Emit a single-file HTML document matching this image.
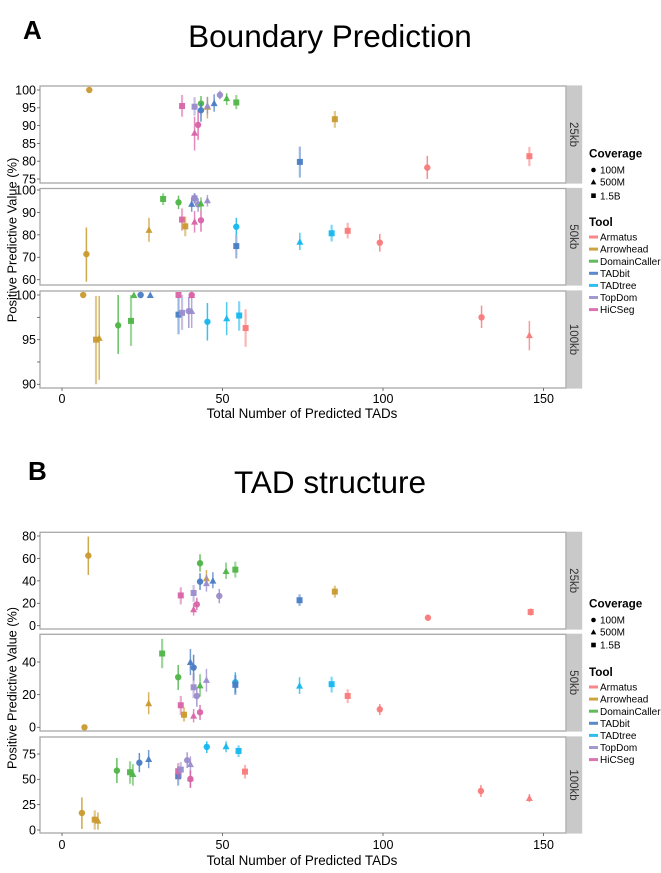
<!DOCTYPE html>
<html lang="en">
<head>
<meta charset="utf-8">
<title>TAD caller evaluation</title>
<style>
html,body{margin:0;padding:0;background:#fff;}
#figure{display:block;width:661px;height:873px;font-family:"Liberation Sans",sans-serif;filter:blur(0.3px);}
text{font-family:"Liberation Sans",sans-serif;}
</style>
</head>
<body>
<svg id="figure" xmlns="http://www.w3.org/2000/svg" width="661" height="873" viewBox="0 0 661 873">
  <text x="23" y="39" font-size="26" font-weight="700" fill="#000">A</text>
  <text x="330" y="47" font-size="31.5" text-anchor="middle" fill="#000">Boundary Prediction</text>
  <text x="28" y="480" font-size="26" font-weight="700" fill="#000">B</text>
  <text x="330" y="493" font-size="31.5" text-anchor="middle" fill="#000">TAD structure</text>
  <text transform="translate(16.5,240) rotate(-90)" font-size="12.9" text-anchor="middle" fill="#000">Positive Predictive Value (%)</text>
  <text transform="translate(16.5,688) rotate(-90)" font-size="12.7" text-anchor="middle" fill="#000">Positive Predictive Value (%)</text>
  <text x="302" y="418" font-size="13.4" text-anchor="middle" fill="#000">Total Number of Predicted TADs</text>
  <text x="302" y="865" font-size="13.4" text-anchor="middle" fill="#000">Total Number of Predicted TADs</text>
  <g id="plots"></g>
  <g id="legends"></g>
</svg>
<script>
// Legend / axis categories
const tools = ["Armatus", "Arrowhead", "DomainCaller", "TADbit", "TADtree", "TopDom", "HiCSeg"];
const coverages = ["100M", "500M", "1.5B"];
const xTicks = [0, 50, 100, 150];

// Tick labels per panel
const boundary25Ticks = [100, 95, 90, 85, 80, 75];
const boundary50Ticks = [100, 90, 80, 70, 60];
const boundary100Ticks = [100, 95, 90];
const boundary100MinorTicks = [97.5, 92.5];
const structure25Ticks = [80, 60, 40, 20, 0];
const structure50Ticks = [40, 20, 0];
const structure100Ticks = [75, 50, 25, 0];

// Rows: tool, coverage, predicted TADs, PPV, lower, upper
const boundary25 = [
  ["Arrowhead","100M",8.5,100,100,100],
  ["HiCSeg","1.5B",37.4,95.5,92.5,98.6],
  ["TopDom","1.5B",41.3,95.3,92.8,98],
  ["HiCSeg","500M",41.3,88,83,92.5],
  ["HiCSeg","100M",42.4,90.2,86,94.4],
  ["DomainCaller","100M",43.3,96.2,93.9,98.3],
  ["TADbit","100M",43.3,94.3,91.1,96.3],
  ["Arrowhead","500M",45.3,95.3,92,98],
  ["TopDom","500M",45.3,95.6,93.2,98.1],
  ["TADbit","500M",47.4,96.3,93.9,98.8],
  ["TopDom","100M",49.2,98.6,97.4,99.8],
  ["DomainCaller","500M",51.3,97.7,95.8,99.1],
  ["DomainCaller","1.5B",54.3,96.5,94.6,98.6],
  ["TADbit","1.5B",74.1,79.8,75.4,84.1],
  ["Arrowhead","1.5B",85,91.8,89.4,94.1],
  ["Armatus","100M",113.8,78.2,75,81.5],
  ["Armatus","1.5B",145.6,81.4,78.6,84]
];
const boundary50 = [
  ["Arrowhead","100M",7.6,71.4,59.1,83.3],
  ["Arrowhead","500M",27.1,82.2,76.9,87.6],
  ["DomainCaller","1.5B",31.5,96,93.3,98.5],
  ["DomainCaller","100M",36.3,94.5,91.5,97.5],
  ["HiCSeg","1.5B",37.4,86.8,81.9,91.8],
  ["Arrowhead","1.5B",38.4,83.8,79.4,88.1],
  ["TADbit","500M",40.4,93.8,90.3,96.7],
  ["TADbit","100M",41.3,96.3,94,98.5],
  ["TopDom","1.5B",41.3,96.3,94,98.5],
  ["HiCSeg","500M",41.3,85.9,81,90.6],
  ["TopDom","100M",42.4,93.6,90.3,96.3],
  ["DomainCaller","500M",43.3,94,91,96.7],
  ["HiCSeg","100M",43.3,86.5,81.4,91],
  ["TopDom","500M",45.3,95.4,92.6,97.8],
  ["TADtree","100M",54.3,83.6,79.9,87.6],
  ["TADbit","1.5B",54.3,75,69.5,79.9],
  ["TADtree","500M",74.1,76.9,73.2,80.9],
  ["TADtree","1.5B",84,80.7,77,84.5],
  ["Armatus","1.5B",89,81.8,78.4,85.4],
  ["Armatus","100M",99,76.5,72.5,80.4]
];
const boundary100 = [
  ["Arrowhead","100M",6.6,100,100,100],
  ["Arrowhead","1.5B",10.6,95,90,99.9],
  ["Arrowhead","500M",11.6,95.2,90.5,99.9],
  ["DomainCaller","100M",17.5,96.6,93.4,100],
  ["DomainCaller","1.5B",21.5,97.1,94.3,100],
  ["DomainCaller","500M",22.4,100,100,100],
  ["TADbit","100M",24.5,100,100,100],
  ["TADbit","500M",27.5,100,100,100],
  ["TADbit","1.5B",36.3,97.8,95.6,100],
  ["HiCSeg","1.5B",36.3,100,100,100],
  ["TopDom","1.5B",37.4,98,96.1,100],
  ["TopDom","100M",39.5,98.2,96.3,99.8],
  ["TopDom","500M",40.4,98.2,96.3,99.8],
  ["HiCSeg","500M",40.4,100,100,100],
  ["HiCSeg","100M",40.4,100,100,100],
  ["TADtree","100M",45.3,97,94.9,99.1],
  ["TADtree","500M",51.3,97.4,95.5,99.2],
  ["TADtree","1.5B",55.2,97.7,96,99.3],
  ["Armatus","1.5B",57.2,96.3,94.2,98.4],
  ["Armatus","100M",130.7,97.5,96.3,98.8],
  ["Armatus","500M",145.6,95.5,93.8,97.1]
];
const structure25 = [
  ["Arrowhead","100M",8.2,62.5,45.3,79.5],
  ["HiCSeg","1.5B",37,27,19,34.3],
  ["TopDom","1.5B",41,29.2,21.4,36.3],
  ["HiCSeg","500M",41,14.6,9,20],
  ["HiCSeg","100M",42,19,14,25],
  ["DomainCaller","100M",43,55.7,48.2,63.7],
  ["TADbit","100M",43,39.3,31.9,46.8],
  ["Arrowhead","500M",45,42.3,36.3,49.7],
  ["TopDom","500M",45,37.9,30.4,45.3],
  ["TADbit","500M",47,40.2,33.4,47.7],
  ["TopDom","100M",49,26.5,20,32.8],
  ["DomainCaller","500M",51.1,48.8,41.7,56.3],
  ["DomainCaller","1.5B",54,50,42.9,57.1],
  ["TADbit","1.5B",74,22.7,17.6,28],
  ["Arrowhead","1.5B",85,30.4,25,35.7],
  ["Armatus","100M",114,7.1,4.5,9.6],
  ["Armatus","1.5B",146,12.2,8.9,15.5]
];
const structure50 = [
  ["Arrowhead","100M",7,0,0,0],
  ["Arrowhead","500M",27,14.7,8,21.5],
  ["DomainCaller","1.5B",31.2,45.2,36.2,54.2],
  ["DomainCaller","100M",36.2,30.7,22.9,38.2],
  ["HiCSeg","1.5B",37,13.5,7.5,19.2],
  ["Arrowhead","1.5B",38,7.7,3.5,12.3],
  ["TADbit","500M",40,40,32,48],
  ["HiCSeg","500M",41,7.1,3,11.2],
  ["TADbit","100M",41,36.6,28.6,44.4],
  ["TopDom","1.5B",41,24.5,17.8,33],
  ["TopDom","100M",42,19.2,12.6,24.5],
  ["DomainCaller","500M",43,25.7,18.8,32.5],
  ["HiCSeg","100M",43,9.2,4.5,13.7],
  ["TopDom","500M",45,29,21.8,35.8],
  ["TADtree","100M",54,27.6,20.8,33.7],
  ["TADbit","1.5B",54,26,19.8,32],
  ["TADtree","500M",74,25.5,20.4,30.7],
  ["TADtree","1.5B",84,26.4,21.3,31],
  ["Armatus","1.5B",89,19.2,14.8,23.3],
  ["Armatus","100M",99,11,7.5,14.3]
];
const structure100 = [
  ["Arrowhead","100M",6.2,16.8,1,32.2],
  ["Arrowhead","1.5B",10.2,10.2,0.3,19.4],
  ["Arrowhead","500M",11.2,9.2,0.3,17.4],
  ["DomainCaller","100M",17.1,58.6,46.4,71],
  ["DomainCaller","1.5B",21.2,57,45.7,67.8],
  ["DomainCaller","500M",22.1,55.3,43.8,65],
  ["TADbit","100M",24.1,66.4,57,76],
  ["TADbit","500M",27,70,61,79],
  ["TADbit","1.5B",36.2,53,43.8,62.8],
  ["HiCSeg","1.5B",36.2,58,50,66],
  ["TopDom","1.5B",37,59.6,51.3,67],
  ["TopDom","100M",39,68.8,61.2,76.7],
  ["TopDom","500M",40,65,56.3,72.7],
  ["HiCSeg","100M",40,50.4,41.5,58],
  ["HiCSeg","500M",40,51,42,59],
  ["TADtree","100M",45.1,82,76,87.5],
  ["TADtree","500M",51.1,82.6,76.7,87.5],
  ["TADtree","1.5B",55,78,72,83.6],
  ["Armatus","1.5B",57,57.6,50.8,64.2],
  ["Armatus","100M",130.5,38.5,32.6,44.4],
  ["Armatus","500M",145.6,31.6,27.6,35.5]
];

const NS = "http://www.w3.org/2000/svg";
const toolColor = {Armatus:"#f87a7a",Arrowhead:"#c99a2e",DomainCaller:"#4fb548",TADbit:"#4a7cc4",TADtree:"#15b7ee",TopDom:"#9b8ccb",HiCSeg:"#d964a8"};
const barStyle = {"100M":[1.5,0.85],"500M":[1.5,0.75],"1.5B":[2.2,0.55]};
const plots = document.getElementById("plots");
const legends = document.getElementById("legends");

function make(parent, tag, attrs, text) {
  const el = document.createElementNS(NS, tag);
  for (const k in attrs) el.setAttribute(k, attrs[k]);
  if (text !== undefined) el.textContent = text;
  parent.appendChild(el);
  return el;
}
function xScale(v) { return 62 + 3.21 * v; }
function linear(v0, p0, v1, p1) {
  return function (v) { return p0 + (v - v0) * (p1 - p0) / (v1 - v0); };
}
function kebab(s) { return s.toLowerCase().replace(/\./g, "-"); }

function marker(parent, cov, cx, cy, fill, size) {
  let el;
  if (cov === "100M") {
    el = make(parent, "circle", {cx: cx, cy: cy, r: size, fill: fill});
  } else if (cov === "500M") {
    const s = size + 0.5;
    el = make(parent, "polygon", {points: (cx - s) + "," + (cy + s * 0.85) + " " + (cx + s) + "," + (cy + s * 0.85) + " " + cx + "," + (cy - s), fill: fill});
  } else {
    el = make(parent, "rect", {x: cx - size, y: cy - size, width: 2 * size, height: 2 * size, fill: fill});
  }
  return el;
}

function drawPanel(name, label, top, bottom, yScale, ticks, minorTicks, rows, showX, xLabelY) {
  const g = make(plots, "g", {});
  
  

  const frame = make(g, "rect", {x: 40, y: top, width: 526, height: bottom - top, fill: "#fff", stroke: "#a8a8a8", "stroke-width": 1.3});
  
  

  const strip = make(g, "rect", {x: 566.6, y: top - 0.6, width: 15.6, height: bottom - top + 1.2, fill: "#c9c9c9"});
  
  

  const stripCenter = (top + bottom) / 2;
  const stripText = make(g, "text", {transform: "translate(570,"+ stripCenter +") rotate(90)", "font-size": 11.5, "text-anchor": "middle", fill: "#333"}, label);
  
  

  ticks.forEach(function (t) {
    const py = yScale(t);
    const tick = make(g, "line", {x1: 37, x2: 40, y1: py, y2: py, stroke: "#555", "stroke-width": 0.8});
    
    
    const lab = make(g, "text", {x: 36, y: py + 4.4, "font-size": 12.5, "text-anchor": "end", fill: "#000"}, t);
    
    
  });
  minorTicks.forEach(function (t) {
    const py = yScale(t);
    const tick = make(g, "line", {x1: 37, x2: 40, y1: py, y2: py, stroke: "#555", "stroke-width": 0.8});
    
    
  });
  if (showX) {
    xTicks.forEach(function (t) {
      const px = xScale(t);
      const tick = make(g, "line", {x1: px, x2: px, y1: bottom, y2: bottom + 3, stroke: "#555", "stroke-width": 0.8});
      
      
      const lab = make(g, "text", {x: px, y: xLabelY, "font-size": 12.5, "text-anchor": "middle", fill: "#000"}, t);
      
      
    });
  }
  rows.forEach(function (r) {
    const tool = r[0], cov = r[1], px = xScale(r[2]);
    const color = toolColor[tool];
    const style = barStyle[cov];
    const id = name + '-' + kebab(tool) + '-' + kebab(cov);
    if (r[4] !== r[5]) {
      const bar = make(g, "line", {x1: px, x2: px, y1: yScale(r[4]), y2: yScale(r[5]), stroke: color, "stroke-width": style[0], "stroke-opacity": style[1]});
      
      
    }
    const pt = marker(g, cov, px, yScale(r[3]), color, cov === "100M" ? 3.2 : 3);
    pt.setAttribute('fill-opacity', '0.95');
    
    
  });
}

function drawLegend(prefix, coverageTitleY, coverageYs, toolTitleY, toolStartY) {
  const covTitle = make(legends, "text", {x: 589, y: coverageTitleY + 4.5, "font-size": 11.7, "font-weight": 700, fill: "#000"}, "Coverage");
  
  
  coverages.forEach(function (c, i) {
    const m = marker(legends, c, 593.5, coverageYs[i], "#000", 2.3);
    
    
    const t = make(legends, "text", {x: 600, y: coverageYs[i] + 3.6, "font-size": 10, fill: "#000"}, c);
    
    
  });
  const toolTitle = make(legends, "text", {x: 589, y: toolTitleY + 4.5, "font-size": 11.7, "font-weight": 700, fill: "#000"}, "Tool");
  
  
  tools.forEach(function (tool, i) {
    const y = toolStartY + i * 12.1;
    const key = make(legends, "rect", {x: 589, y: y - 1.5, width: 9, height: 3, fill: toolColor[tool], "fill-opacity": 0.9});
    
    
    const t = make(legends, "text", {x: 600, y: y + 3.6, "font-size": 10, fill: "#000"}, tool);
    
    
  });
}

drawPanel("boundary-25kb", "25kb", 86, 183, linear(100, 90, 75, 179), boundary25Ticks, [], boundary25, false, 0);
drawPanel("boundary-50kb", "50kb", 188.5, 285, linear(100, 190, 60, 279.7), boundary50Ticks, [], boundary50, false, 0);
drawPanel("boundary-100kb", "100kb", 291, 388, linear(100, 295, 90, 384.3), boundary100Ticks, boundary100MinorTicks, boundary100, true, 403);
drawPanel("structure-25kb", "25kb", 532.3, 629, linear(80, 536, 0, 625.7), structure25Ticks, [], structure25, false, 0);
drawPanel("structure-50kb", "50kb", 634.3, 731, linear(40, 662, 0, 727.3), structure50Ticks, [], structure50, false, 0);
drawPanel("structure-100kb", "100kb", 737, 833, linear(75, 754, 0, 830), structure100Ticks, [], structure100, true, 849);

drawLegend("boundary", 153, [170, 182, 195.7], 221.7, 237);
drawLegend("structure", 603, [620, 632, 645], 671.7, 687);
</script>
</body>
</html>
